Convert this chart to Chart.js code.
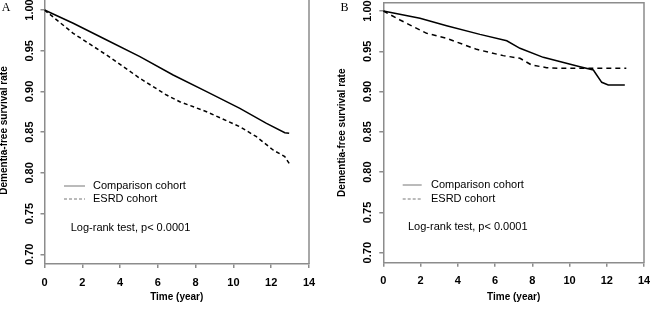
<!DOCTYPE html>
<html>
<head>
<meta charset="utf-8">
<script src="https://cdn.jsdelivr.net/npm/chart.js@4.4.0/dist/chart.umd.min.js"></script>
<style>
  html, body { margin: 0; padding: 0; background: #fff; overflow: hidden; }
  #wrap { position: relative; width: 650px; height: 312px; overflow: hidden; }
  canvas { position: absolute; }
</style>
</head>
<body>
<div id="wrap">
  <canvas id="panelA" width="325" height="315" style="left:0;top:-3px"></canvas>
  <canvas id="panelB" width="325" height="312" style="left:325px;top:0"></canvas>
</div>
<script>
// values
const timeA_comparison = [0, 1.52, 3.29, 5.05, 6.81, 8.58, 10.34, 11.75, 12.72, 12.95];
const survA_comparison = [1.000, 0.9837, 0.9632, 0.9427, 0.9202, 0.8997, 0.8793, 0.8609, 0.8494, 0.8486];
const timeA_esrd = [0, 1.52, 3.29, 5.05, 6.46, 7.16, 8.58, 10.34, 11.22, 12.10, 12.72, 12.98];
const survA_esrd = [1.000, 0.9714, 0.9447, 0.9161, 0.8956, 0.8874, 0.8751, 0.8567, 0.8444, 0.8281, 0.8199, 0.8105];

const timeB_comparison = [0, 1.97, 3.40, 5.19, 6.63, 7.34, 8.59, 10.56, 11.28, 11.46, 11.73, 12.08, 12.97];
const survB_comparison = [1.000, 0.9909, 0.9818, 0.9710, 0.9631, 0.9537, 0.9425, 0.9309, 0.9268, 0.9206, 0.9115, 0.9081, 0.9081];
const timeB_esrd = [0, 0.90, 2.33, 3.40, 5.01, 6.44, 7.34, 7.96, 8.77, 9.49, 13.05];
const survB_esrd = [1.000, 0.9888, 0.9723, 0.9661, 0.9524, 0.9446, 0.9413, 0.9330, 0.9297, 0.9289, 0.9289];

const seriesLabels = ['Comparison cohort', 'ESRD cohort'];
const xTickValues = [0, 2, 4, 6, 8, 10, 12, 14];
const yTickValues = [0.70, 0.75, 0.80, 0.85, 0.90, 0.95, 1.00];
const testNote = 'Log-rank test, p< 0.0001';

const GRAY = '#8c8c8c';
const SANS = "'Liberation Sans', Arial, sans-serif";

const pts = (xs, ys) => xs.map((x, i) => ({x: x, y: ys[i]}));

// box top/right, in-plot legend, test note and panel letter
const boxNotes = {
    id: 'boxNotes',
    afterDraw(chart, args, o) {
        const ctx = chart.ctx;
        const a = chart.chartArea;
        ctx.save();
        ctx.strokeStyle = GRAY;
        ctx.lineWidth = 1.5;
        ctx.beginPath();
        ctx.moveTo(a.left, a.top);
        ctx.lineTo(a.right, a.top);
        ctx.lineTo(a.right, a.bottom);
        ctx.stroke();

        ctx.font = '11px ' + SANS;
        ctx.fillStyle = '#000';
        ctx.textBaseline = 'middle';
        chart.data.datasets.forEach((ds, i) => {
            const y = o.legendY + i * o.legendGap;
            ctx.strokeStyle = '#777';
            ctx.lineWidth = 1;
            ctx.setLineDash(i ? [3, 2] : []);
            ctx.beginPath();
            ctx.moveTo(o.sampleX0, y);
            ctx.lineTo(o.sampleX1, y);
            ctx.stroke();
            ctx.fillText(ds.label, o.textX, y);
        });
        ctx.setLineDash([]);
        ctx.fillText(testNote, o.noteX, o.noteY);

        ctx.font = '12px "Liberation Serif", "Times New Roman", serif';
        ctx.textBaseline = 'alphabetic';
        ctx.fillText(o.letter, o.letterX, o.letterY);
        ctx.restore();
    }
};

function makePanel(id, series, L) {
    const ctx = document.getElementById(id).getContext('2d');
    return new Chart(ctx, {
        type: 'scatter',
        data: {
            datasets: [
                {
                    label: seriesLabels[0],
                    data: pts(series[0], series[1]),
                    borderColor: '#000',
                    borderWidth: 1.5,
                    showLine: true,
                    pointRadius: 0,
                    fill: false
                },
                {
                    label: seriesLabels[1],
                    data: pts(series[2], series[3]),
                    borderColor: '#000',
                    borderWidth: 1.5,
                    borderDash: L.dash,
                    showLine: true,
                    pointRadius: 0,
                    fill: false
                }
            ]
        },
        options: {
            responsive: false,
            animation: false,
            devicePixelRatio: 1,
            layout: {padding: L.padding},
            plugins: {
                legend: {display: false},
                tooltip: {enabled: false},
                boxNotes: L.notes
            },
            scales: {
                x: {
                    type: 'linear',
                    min: 0,
                    max: 14,
                    afterBuildTicks: s => { s.ticks = xTickValues.map(v => ({value: v})); },
                    afterFit: s => { s.height = L.xAxisH; s.paddingLeft = 0; s.paddingRight = 0; },
                    grid: {drawOnChartArea: false, drawTicks: true, tickLength: 4, color: GRAY, lineWidth: 1.5},
                    border: {display: true, color: GRAY, width: 1.5},
                    ticks: {
                        color: '#000',
                        font: {family: SANS, size: 11, weight: 'bold'},
                        padding: 8,
                        maxRotation: 0,
                        autoSkip: false
                    },
                    title: {
                        display: true,
                        text: 'Time (year)',
                        color: '#000',
                        font: {family: SANS, size: 10, weight: 'bold'},
                        padding: {top: 0, bottom: 9}
                    }
                },
                y: {
                    type: 'linear',
                    min: L.yMin,
                    max: L.yMax,
                    afterBuildTicks: s => { s.ticks = yTickValues.map(v => ({value: v})); },
                    afterFit: s => { s.width = L.yAxisW; s.paddingTop = 0; s.paddingBottom = 0; },
                    grid: {drawOnChartArea: false, drawTicks: true, tickLength: 4, color: GRAY, lineWidth: 1.5},
                    border: {display: true, color: GRAY, width: 1.5},
                    ticks: {
                        color: '#000',
                        font: {family: SANS, size: 11, weight: 'bold'},
                        minRotation: 90,
                        maxRotation: 90,
                        crossAlign: 'center',
                        padding: 0.3,
                        autoSkip: false,
                        callback: v => Number(v).toFixed(2)
                    },
                    title: {
                        display: true,
                        text: 'Dementia-free survival rate',
                        color: '#000',
                        font: {family: SANS, size: 10, weight: 'bold'},
                        padding: {top: L.yTitlePad, bottom: 0}
                    }
                }
            }
        },
        plugins: [boxNotes]
    });
}

makePanel('panelA', [timeA_comparison, survA_comparison, timeA_esrd, survA_esrd], {
    padding: {top: 0, right: 16, bottom: 0, left: 0},
    xAxisH: 48,
    yAxisW: 44.5,
    yMin: 0.6881,
    yMax: 1.0160,
    yTitlePad: -2,
    dash: [4, 3],
    notes: {
        legendY: 189, legendGap: 13, sampleX0: 64, sampleX1: 85, textX: 93,
        noteX: 70.7, noteY: 230.7,
        letter: 'A', letterX: 1.7, letterY: 14
    }
});

makePanel('panelB', [timeB_comparison, survB_comparison, timeB_esrd, survB_esrd], {
    padding: {top: 2.7, right: 6, bottom: 0, left: 0},
    xAxisH: 49.3,
    yAxisW: 58.3,
    yMin: 0.6876,
    yMax: 1.0103,
    yTitlePad: 11.5,
    dash: [5, 4],
    notes: {
        legendY: 185, legendGap: 14, sampleX0: 77.7, sampleX1: 96.7, textX: 106,
        noteX: 83, noteY: 226.7,
        letter: 'B', letterX: 15.5, letterY: 11
    }
});
</script>
</body>
</html>
